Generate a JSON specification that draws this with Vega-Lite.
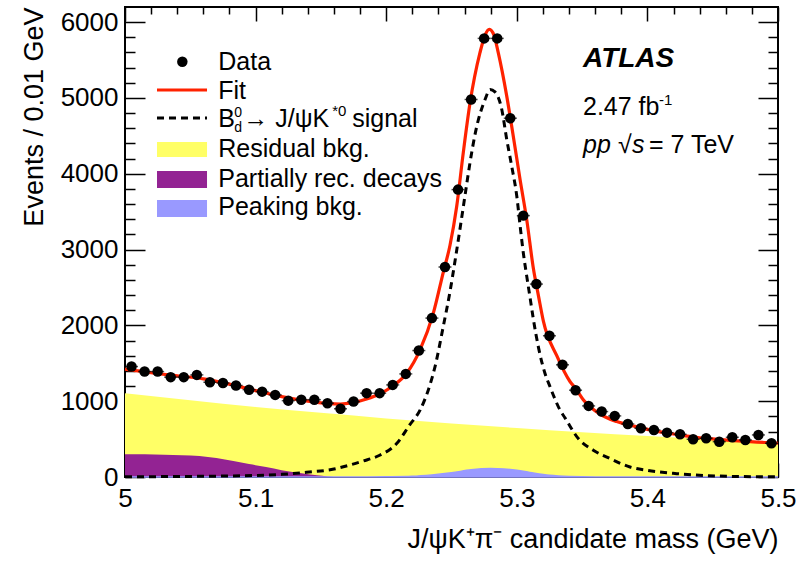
{
  "$schema": "https://vega.github.io/schema/vega-lite/v6.json",
  "autosize": {"type": "none"},
  "padding": {"left": 125, "top": 7, "right": 25, "bottom": 86},
  "width": 653,
  "height": 470,
  "background": "white",
  "config": {
    "view": {"stroke": "#000", "strokeWidth": 2},
    "font": "Liberation Sans",
    "axis": {
      "domain": false, "grid": false,
      "labelFont": "Liberation Sans", "labelFontSize": 26, "labelColor": "#000",
      "tickColor": "#000", "tickWidth": 1.5,
      "titleFont": "Liberation Sans", "titleFontSize": 27, "titleFontWeight": "normal", "titleColor": "#000",
      "labelFlush": false, "labelBound": false, "labelOverlap": false
    }
  },
  "datasets": {
    "points": [
      {"m": 5.005, "n": 1457}, {"m": 5.015, "n": 1391}, {"m": 5.025, "n": 1391}, {"m": 5.035, "n": 1317},
      {"m": 5.045, "n": 1317}, {"m": 5.055, "n": 1347}, {"m": 5.065, "n": 1250}, {"m": 5.075, "n": 1240},
      {"m": 5.085, "n": 1208}, {"m": 5.095, "n": 1152}, {"m": 5.105, "n": 1126}, {"m": 5.115, "n": 1083},
      {"m": 5.125, "n": 1007}, {"m": 5.135, "n": 1020}, {"m": 5.145, "n": 1020}, {"m": 5.155, "n": 973},
      {"m": 5.165, "n": 900}, {"m": 5.175, "n": 995}, {"m": 5.185, "n": 1106}, {"m": 5.195, "n": 1106},
      {"m": 5.205, "n": 1215}, {"m": 5.215, "n": 1360}, {"m": 5.225, "n": 1668}, {"m": 5.235, "n": 2096},
      {"m": 5.245, "n": 2770}, {"m": 5.255, "n": 3791}, {"m": 5.265, "n": 4980}, {"m": 5.275, "n": 5786},
      {"m": 5.285, "n": 5786}, {"m": 5.295, "n": 4733}, {"m": 5.305, "n": 3448}, {"m": 5.315, "n": 2545},
      {"m": 5.325, "n": 1863}, {"m": 5.335, "n": 1480}, {"m": 5.345, "n": 1145}, {"m": 5.355, "n": 938},
      {"m": 5.365, "n": 863}, {"m": 5.375, "n": 806}, {"m": 5.385, "n": 700}, {"m": 5.395, "n": 643},
      {"m": 5.405, "n": 621}, {"m": 5.415, "n": 585}, {"m": 5.425, "n": 564}, {"m": 5.435, "n": 498},
      {"m": 5.445, "n": 511}, {"m": 5.455, "n": 466}, {"m": 5.465, "n": 524}, {"m": 5.475, "n": 489},
      {"m": 5.485, "n": 555}, {"m": 5.495, "n": 445}
    ],
    "fit": [
      {"m": 5.0, "v": 1422}, {"m": 5.02, "v": 1375}, {"m": 5.04, "v": 1335}, {"m": 5.06, "v": 1295},
      {"m": 5.08, "v": 1225}, {"m": 5.1, "v": 1140}, {"m": 5.12, "v": 1060}, {"m": 5.14, "v": 1000},
      {"m": 5.155, "v": 970}, {"m": 5.165, "v": 962}, {"m": 5.175, "v": 985}, {"m": 5.185, "v": 1030},
      {"m": 5.195, "v": 1095}, {"m": 5.205, "v": 1200}, {"m": 5.2157, "v": 1369}, {"m": 5.2259, "v": 1677},
      {"m": 5.2361, "v": 2162}, {"m": 5.2437, "v": 2700}, {"m": 5.2489, "v": 3060}, {"m": 5.254, "v": 3571},
      {"m": 5.259, "v": 4276}, {"m": 5.2642, "v": 4936}, {"m": 5.2718, "v": 5597}, {"m": 5.2755, "v": 5820},
      {"m": 5.279, "v": 5905}, {"m": 5.2825, "v": 5830}, {"m": 5.2858, "v": 5597}, {"m": 5.2923, "v": 5024},
      {"m": 5.2973, "v": 4496}, {"m": 5.3025, "v": 3923}, {"m": 5.3076, "v": 3395}, {"m": 5.3127, "v": 2750},
      {"m": 5.3167, "v": 2380}, {"m": 5.3203, "v": 2060}, {"m": 5.3306, "v": 1600}, {"m": 5.3407, "v": 1260},
      {"m": 5.345, "v": 1170}, {"m": 5.3509, "v": 1020}, {"m": 5.3637, "v": 830}, {"m": 5.3765, "v": 731},
      {"m": 5.39, "v": 670}, {"m": 5.402, "v": 621}, {"m": 5.415, "v": 580}, {"m": 5.4275, "v": 545},
      {"m": 5.44, "v": 518}, {"m": 5.453, "v": 498}, {"m": 5.466, "v": 480}, {"m": 5.4786, "v": 466},
      {"m": 5.49, "v": 455}, {"m": 5.5, "v": 445}
    ],
    "signal": [
      {"m": 5.0, "v": 3}, {"m": 5.05, "v": 8}, {"m": 5.1, "v": 20}, {"m": 5.12, "v": 35},
      {"m": 5.139, "v": 62}, {"m": 5.16, "v": 105}, {"m": 5.172, "v": 158}, {"m": 5.1825, "v": 211},
      {"m": 5.195, "v": 287}, {"m": 5.208, "v": 441}, {"m": 5.218, "v": 687}, {"m": 5.226, "v": 885},
      {"m": 5.2335, "v": 1215}, {"m": 5.2374, "v": 1457}, {"m": 5.2437, "v": 1986}, {"m": 5.2489, "v": 2450},
      {"m": 5.2527, "v": 2850}, {"m": 5.2563, "v": 3250}, {"m": 5.2604, "v": 3720}, {"m": 5.2642, "v": 4150},
      {"m": 5.2685, "v": 4560}, {"m": 5.2757, "v": 4980}, {"m": 5.2795, "v": 5112}, {"m": 5.2833, "v": 5080},
      {"m": 5.2885, "v": 4848}, {"m": 5.2923, "v": 4452}, {"m": 5.2961, "v": 4100}, {"m": 5.3, "v": 3703},
      {"m": 5.3025, "v": 3320}, {"m": 5.305, "v": 2955}, {"m": 5.3076, "v": 2650}, {"m": 5.3103, "v": 2350},
      {"m": 5.3127, "v": 2080}, {"m": 5.3167, "v": 1700}, {"m": 5.3216, "v": 1366}, {"m": 5.3254, "v": 1193},
      {"m": 5.328, "v": 1079}, {"m": 5.3332, "v": 880}, {"m": 5.3369, "v": 780}, {"m": 5.3471, "v": 507},
      {"m": 5.3586, "v": 353}, {"m": 5.3714, "v": 243}, {"m": 5.3867, "v": 132}, {"m": 5.3995, "v": 88},
      {"m": 5.4225, "v": 44}, {"m": 5.453, "v": 13}, {"m": 5.49, "v": 3}, {"m": 5.5, "v": 2}
    ],
    "residual": [
      {"m": 5.0, "v": 1106}, {"m": 5.05, "v": 1013}, {"m": 5.1, "v": 924}, {"m": 5.15, "v": 846},
      {"m": 5.2, "v": 773}, {"m": 5.25, "v": 706}, {"m": 5.3, "v": 646}, {"m": 5.35, "v": 590},
      {"m": 5.4, "v": 540}, {"m": 5.45, "v": 493}, {"m": 5.5, "v": 450}
    ],
    "partial": [
      {"m": 5.0, "v": 300}, {"m": 5.03, "v": 295}, {"m": 5.057, "v": 277}, {"m": 5.07, "v": 250},
      {"m": 5.083, "v": 211}, {"m": 5.095, "v": 170}, {"m": 5.108, "v": 132}, {"m": 5.12, "v": 90},
      {"m": 5.134, "v": 53}, {"m": 5.147, "v": 22}, {"m": 5.155, "v": 8}, {"m": 5.165, "v": 0},
      {"m": 5.5, "v": 0}
    ],
    "peaking": [
      {"m": 5.0, "v": 0}, {"m": 5.18, "v": 0}, {"m": 5.2, "v": 3}, {"m": 5.22, "v": 10},
      {"m": 5.235, "v": 28}, {"m": 5.25, "v": 55}, {"m": 5.265, "v": 95}, {"m": 5.28, "v": 111},
      {"m": 5.29, "v": 105}, {"m": 5.3, "v": 88}, {"m": 5.31, "v": 60}, {"m": 5.325, "v": 22},
      {"m": 5.34, "v": 6}, {"m": 5.36, "v": 0}, {"m": 5.5, "v": 0}
    ],
    "one": [{}]
  },
  "resolve": {"axis": {"x": "independent", "y": "independent"}},
  "layer": [
    {
      "data": {"name": "residual"},
      "mark": {"type": "area", "color": "#FFFF66", "interpolate": "monotone"},
      "encoding": {
        "x": {"field": "m", "type": "quantitative", "scale": {"domain": [5, 5.5], "nice": false, "zero": false},
          "axis": {"orient": "bottom", "values": [5, 5.1, 5.2, 5.3, 5.4, 5.5], "format": "~g", "tickSize": -14, "labelPadding": 22,
            "title": "J/ψK⁺π⁻ candidate mass (GeV)", "titleAnchor": "end", "titlePadding": 15}},
        "y": {"field": "v", "type": "quantitative", "scale": {"domain": [0, 6200], "nice": false},
          "axis": {"orient": "left", "values": [0, 1000, 2000, 3000, 4000, 5000, 6000], "format": "d", "tickSize": -20, "labelPadding": 27,
            "title": "Events / 0.01 GeV", "titleAnchor": "end", "titlePadding": 12}}
      }
    },
    {
      "data": {"name": "partial"},
      "mark": {"type": "area", "color": "#932393", "interpolate": "monotone"},
      "encoding": {
        "x": {"field": "m", "type": "quantitative",
          "axis": {"orient": "bottom", "values": [5.02, 5.04, 5.06, 5.08, 5.12, 5.14, 5.16, 5.18, 5.22, 5.24, 5.26, 5.28, 5.32, 5.34, 5.36, 5.38, 5.42, 5.44, 5.46, 5.48], "tickSize": -7, "labels": false, "title": null}},
        "y": {"field": "v", "type": "quantitative",
          "axis": {"orient": "left", "values": [200, 400, 600, 800, 1200, 1400, 1600, 1800, 2200, 2400, 2600, 2800, 3200, 3400, 3600, 3800, 4200, 4400, 4600, 4800, 5200, 5400, 5600, 5800], "tickSize": -10, "labels": false, "title": null}}
      }
    },
    {
      "data": {"name": "peaking"},
      "mark": {"type": "area", "color": "#9999FF", "stroke": "#9999FF", "strokeWidth": 1.5, "interpolate": "monotone"},
      "encoding": {
        "x": {"field": "m", "type": "quantitative",
          "axis": {"orient": "top", "values": [5, 5.1, 5.2, 5.3, 5.4, 5.5], "tickSize": -14, "labels": false, "title": null}},
        "y": {"field": "v", "type": "quantitative",
          "axis": {"orient": "right", "values": [0, 1000, 2000, 3000, 4000, 5000, 6000], "tickSize": -20, "labels": false, "title": null}}
      }
    },
    {
      "data": {"name": "signal"},
      "mark": {"type": "line", "color": "#000", "strokeWidth": 3, "strokeDash": [7, 5], "interpolate": "monotone"},
      "encoding": {
        "x": {"field": "m", "type": "quantitative",
          "axis": {"orient": "top", "values": [5.02, 5.04, 5.06, 5.08, 5.12, 5.14, 5.16, 5.18, 5.22, 5.24, 5.26, 5.28, 5.32, 5.34, 5.36, 5.38, 5.42, 5.44, 5.46, 5.48], "tickSize": -7, "labels": false, "title": null}},
        "y": {"field": "v", "type": "quantitative",
          "axis": {"orient": "right", "values": [200, 400, 600, 800, 1200, 1400, 1600, 1800, 2200, 2400, 2600, 2800, 3200, 3400, 3600, 3800, 4200, 4400, 4600, 4800, 5200, 5400, 5600, 5800], "tickSize": -10, "labels": false, "title": null}}
      }
    },
    {
      "data": {"name": "fit"},
      "mark": {"type": "line", "color": "#FF2200", "strokeWidth": 3.2, "interpolate": "monotone"},
      "encoding": {
        "x": {"field": "m", "type": "quantitative", "axis": null},
        "y": {"field": "v", "type": "quantitative", "axis": null}
      }
    },
    {
      "data": {"name": "points"},
      "mark": {"type": "tick", "orient": "horizontal", "color": "#000", "size": 13, "thickness": 1.5},
      "encoding": {
        "x": {"field": "m", "type": "quantitative", "axis": null},
        "y": {"field": "n", "type": "quantitative", "axis": null}
      }
    },
    {
      "data": {"name": "points"},
      "mark": {"type": "circle", "color": "#000", "opacity": 1, "size": 110},
      "encoding": {
        "x": {"field": "m", "type": "quantitative", "axis": null},
        "y": {"field": "n", "type": "quantitative", "axis": null}
      }
    },
    {
      "data": {"name": "one"},
      "mark": {"type": "circle", "color": "#000", "opacity": 1, "size": 110},
      "encoding": {
        "x": {"datum": 5.0439, "type": "quantitative", "axis": null},
        "y": {"datum": 5478, "type": "quantitative", "axis": null}
      }
    },
    {
      "data": {"name": "one"},
      "mark": {"type": "rule", "color": "#FF2200", "strokeWidth": 3.2},
      "encoding": {
        "x": {"datum": 5.0245, "type": "quantitative", "axis": null}, "x2": {"datum": 5.0628},
        "y": {"datum": 5105, "type": "quantitative", "axis": null}
      }
    },
    {
      "data": {"name": "one"},
      "mark": {"type": "rule", "color": "#000", "strokeWidth": 3, "strokeDash": [7, 5]},
      "encoding": {
        "x": {"datum": 5.0245, "type": "quantitative", "axis": null}, "x2": {"datum": 5.0628},
        "y": {"datum": 4736, "type": "quantitative", "axis": null}
      }
    },
    {
      "data": {"name": "one"},
      "mark": {"type": "rect", "color": "#FFFF66"},
      "encoding": {
        "x": {"datum": 5.0245, "type": "quantitative", "axis": null}, "x2": {"datum": 5.0628},
        "y": {"datum": 4419, "type": "quantitative", "axis": null}, "y2": {"datum": 4221}
      }
    },
    {
      "data": {"name": "one"},
      "mark": {"type": "rect", "color": "#932393"},
      "encoding": {
        "x": {"datum": 5.0245, "type": "quantitative", "axis": null}, "x2": {"datum": 5.0628},
        "y": {"datum": 4036, "type": "quantitative", "axis": null}, "y2": {"datum": 3812}
      }
    },
    {
      "data": {"name": "one"},
      "mark": {"type": "rect", "color": "#9999FF"},
      "encoding": {
        "x": {"datum": 5.0245, "type": "quantitative", "axis": null}, "x2": {"datum": 5.0628},
        "y": {"datum": 3654, "type": "quantitative", "axis": null}, "y2": {"datum": 3430}
      }
    },
    {
      "data": {"name": "one"},
      "mark": {"type": "text", "align": "left", "baseline": "alphabetic", "fontSize": 25, "color": "#000"},
      "encoding": {
        "x": {"datum": 5.0714, "type": "quantitative", "axis": null},
        "y": {"datum": 5369, "type": "quantitative", "axis": null},
        "text": {"value": "Data"}
      }
    },
    {
      "data": {"name": "one"},
      "mark": {"type": "text", "align": "left", "baseline": "alphabetic", "fontSize": 25, "color": "#000"},
      "encoding": {
        "x": {"datum": 5.0714, "type": "quantitative", "axis": null},
        "y": {"datum": 4986, "type": "quantitative", "axis": null},
        "text": {"value": "Fit"}
      }
    },
    {
      "data": {"name": "one"},
      "mark": {"type": "text", "align": "left", "baseline": "alphabetic", "fontSize": 25, "color": "#000"},
      "encoding": {
        "x": {"datum": 5.0714, "type": "quantitative", "axis": null},
        "y": {"datum": 4617, "type": "quantitative", "axis": null},
        "text": {"value": "B"}
      }
    },
    {
      "data": {"name": "one"},
      "mark": {"type": "text", "align": "left", "baseline": "alphabetic", "fontSize": 14, "dx": 16, "dy": -10, "color": "#000"},
      "encoding": {
        "x": {"datum": 5.0714, "type": "quantitative", "axis": null},
        "y": {"datum": 4617, "type": "quantitative", "axis": null},
        "text": {"value": "0"}
      }
    },
    {
      "data": {"name": "one"},
      "mark": {"type": "text", "align": "left", "baseline": "alphabetic", "fontSize": 14, "dx": 16, "dy": 5, "color": "#000"},
      "encoding": {
        "x": {"datum": 5.0714, "type": "quantitative", "axis": null},
        "y": {"datum": 4617, "type": "quantitative", "axis": null},
        "text": {"value": "d"}
      }
    },
    {
      "data": {"name": "one"},
      "mark": {"type": "text", "align": "left", "baseline": "alphabetic", "fontSize": 25, "dx": 25, "color": "#000"},
      "encoding": {
        "x": {"datum": 5.0714, "type": "quantitative", "axis": null},
        "y": {"datum": 4617, "type": "quantitative", "axis": null},
        "text": {"value": "→"}
      }
    },
    {
      "data": {"name": "one"},
      "mark": {"type": "text", "align": "left", "baseline": "alphabetic", "fontSize": 25, "dx": 57, "color": "#000"},
      "encoding": {
        "x": {"datum": 5.0714, "type": "quantitative", "axis": null},
        "y": {"datum": 4617, "type": "quantitative", "axis": null},
        "text": {"value": "J/ψK"}
      }
    },
    {
      "data": {"name": "one"},
      "mark": {"type": "text", "align": "left", "baseline": "alphabetic", "fontSize": 15, "dx": 114, "dy": -11, "color": "#000"},
      "encoding": {
        "x": {"datum": 5.0714, "type": "quantitative", "axis": null},
        "y": {"datum": 4617, "type": "quantitative", "axis": null},
        "text": {"value": "*0"}
      }
    },
    {
      "data": {"name": "one"},
      "mark": {"type": "text", "align": "left", "baseline": "alphabetic", "fontSize": 25, "dx": 134, "color": "#000"},
      "encoding": {
        "x": {"datum": 5.0714, "type": "quantitative", "axis": null},
        "y": {"datum": 4617, "type": "quantitative", "axis": null},
        "text": {"value": "signal"}
      }
    },
    {
      "data": {"name": "one"},
      "mark": {"type": "text", "align": "left", "baseline": "alphabetic", "fontSize": 25, "color": "#000"},
      "encoding": {
        "x": {"datum": 5.0714, "type": "quantitative", "axis": null},
        "y": {"datum": 4221, "type": "quantitative", "axis": null},
        "text": {"value": "Residual bkg."}
      }
    },
    {
      "data": {"name": "one"},
      "mark": {"type": "text", "align": "left", "baseline": "alphabetic", "fontSize": 25, "color": "#000"},
      "encoding": {
        "x": {"datum": 5.0714, "type": "quantitative", "axis": null},
        "y": {"datum": 3825, "type": "quantitative", "axis": null},
        "text": {"value": "Partially rec. decays"}
      }
    },
    {
      "data": {"name": "one"},
      "mark": {"type": "text", "align": "left", "baseline": "alphabetic", "fontSize": 25, "color": "#000"},
      "encoding": {
        "x": {"datum": 5.0714, "type": "quantitative", "axis": null},
        "y": {"datum": 3456, "type": "quantitative", "axis": null},
        "text": {"value": "Peaking bkg."}
      }
    },
    {
      "data": {"name": "one"},
      "mark": {"type": "text", "align": "left", "baseline": "alphabetic", "fontSize": 28, "fontWeight": "bold", "fontStyle": "italic", "color": "#000"},
      "encoding": {
        "x": {"datum": 5.3507, "type": "quantitative", "axis": null},
        "y": {"datum": 5408, "type": "quantitative", "axis": null},
        "text": {"value": "ATLAS"}
      }
    },
    {
      "data": {"name": "one"},
      "mark": {"type": "text", "align": "left", "baseline": "alphabetic", "fontSize": 25, "color": "#000"},
      "encoding": {
        "x": {"datum": 5.3507, "type": "quantitative", "axis": null},
        "y": {"datum": 4775, "type": "quantitative", "axis": null},
        "text": {"value": "2.47 fb"}
      }
    },
    {
      "data": {"name": "one"},
      "mark": {"type": "text", "align": "left", "baseline": "alphabetic", "fontSize": 15, "dx": 76, "dy": -10, "color": "#000"},
      "encoding": {
        "x": {"datum": 5.3507, "type": "quantitative", "axis": null},
        "y": {"datum": 4775, "type": "quantitative", "axis": null},
        "text": {"value": "-1"}
      }
    },
    {
      "data": {"name": "one"},
      "mark": {"type": "text", "align": "left", "baseline": "alphabetic", "fontSize": 25, "fontStyle": "italic", "color": "#000"},
      "encoding": {
        "x": {"datum": 5.3507, "type": "quantitative", "axis": null},
        "y": {"datum": 4274, "type": "quantitative", "axis": null},
        "text": {"value": "pp"}
      }
    },
    {
      "data": {"name": "one"},
      "mark": {"type": "text", "align": "left", "baseline": "alphabetic", "fontSize": 25, "dx": 35, "color": "#000"},
      "encoding": {
        "x": {"datum": 5.3507, "type": "quantitative", "axis": null},
        "y": {"datum": 4274, "type": "quantitative", "axis": null},
        "text": {"value": "√"}
      }
    },
    {
      "data": {"name": "one"},
      "mark": {"type": "text", "align": "left", "baseline": "alphabetic", "fontSize": 25, "fontStyle": "italic", "dx": 49, "color": "#000"},
      "encoding": {
        "x": {"datum": 5.3507, "type": "quantitative", "axis": null},
        "y": {"datum": 4274, "type": "quantitative", "axis": null},
        "text": {"value": "s"}
      }
    },
    {
      "data": {"name": "one"},
      "mark": {"type": "text", "align": "left", "baseline": "alphabetic", "fontSize": 25, "dx": 66, "color": "#000"},
      "encoding": {
        "x": {"datum": 5.3507, "type": "quantitative", "axis": null},
        "y": {"datum": 4274, "type": "quantitative", "axis": null},
        "text": {"value": "= 7 TeV"}
      }
    }
  ]
}
